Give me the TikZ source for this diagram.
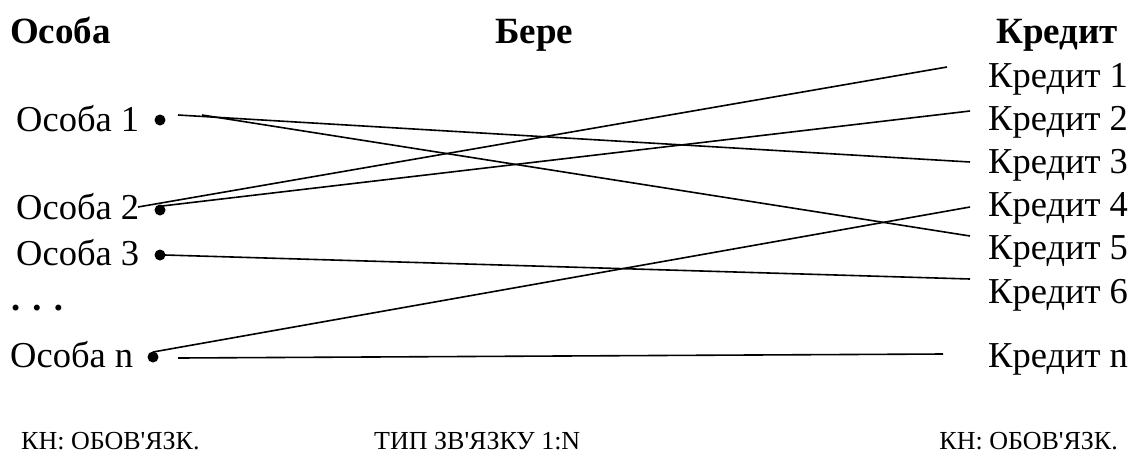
\documentclass[tikz,border=0pt]{standalone}
\usepackage{fontspec}
\setmainfont{Liberation Serif}[Ligatures=TeXOff]
\begin{document}
\begin{tikzpicture}[x=1pt,y=-1pt,
  lbl/.style={inner sep=0pt, anchor=base west, font=\fontsize{36.5}{42}\selectfont},
  hdr/.style={inner sep=0pt, anchor=base west, font=\fontsize{37}{42}\selectfont\bfseries},
  foot/.style={inner sep=0pt, anchor=base west, font=\fontsize{26}{30}\selectfont},
  link/.style={line width=1.6pt},
  dotc/.style={circle, fill, inner sep=0pt, minimum size=11pt}]
\useasboundingbox (0,0) rectangle (1140,456);
% headers
\node[hdr] (hA) at (10,43) {Особа};
\node[hdr] (hB) at (495,43) {Бере};
\node[hdr, anchor=base east] (hC) at (1118,43) {Кредит};
% left
\node[lbl] (o1) at (16,131) {Особа 1};
\node[lbl] (o2) at (16,219) {Особа 2};
\node[lbl] (o3) at (16,265) {Особа 3};
\node[lbl, font=\fontsize{36.5}{42}\selectfont\bfseries] (odots) at (11,310) {. . .};
\node[lbl] (on) at (10,367) {Особа n};
\node[dotc] (d1) at (160,120) {};
\node[dotc] (d2) at (160,210) {};
\node[dotc] (d3) at (160,255) {};
\node[dotc] (dn) at (153,357) {};
% right
\node[lbl] (k1) at (988,87) {Кредит 1};
\node[lbl] (k2) at (988,130) {Кредит 2};
\node[lbl] (k3) at (988,173) {Кредит 3};
\node[lbl] (k4) at (988,216) {Кредит 4};
\node[lbl] (k5) at (988,259) {Кредит 5};
\node[lbl] (k6) at (988,303) {Кредит 6};
\node[lbl] (kn) at (988,367) {Кредит n};
% connector ends
\coordinate (o1a) at (178,115);
\coordinate (o1b) at (202,115);
\coordinate (o2a) at (138,207);
\coordinate (o2b) at (162,206);
\coordinate (o3a) at (165,255);
\coordinate (ona) at (153,352);
\coordinate (onb) at (178,358);
\coordinate (k1e) at (947,67);
\coordinate (k2e) at (970,111);
\coordinate (k3e) at (970,162);
\coordinate (k4e) at (970,207);
\coordinate (k5e) at (970,236);
\coordinate (k6e) at (970,279);
\coordinate (kne) at (943,354);
\draw[link] (o1a) -- (k3e);
\draw[link] (o1b) -- (k5e);
\draw[link] (o2a) -- (k1e);
\draw[link] (o2b) -- (k2e);
\draw[link] (o3a) -- (k6e);
\draw[link] (ona) -- (k4e);
\draw[link] (onb) -- (kne);
% footer
\node[foot] (f1) at (21,449) {КН: ОБОВ'ЯЗК.};
\node[foot] (f2) at (374,449) {ТИП ЗВ'ЯЗКУ 1:N};
\node[foot, anchor=base east] (f3) at (1118,449) {КН: ОБОВ'ЯЗК.};
\end{tikzpicture}
\end{document}
